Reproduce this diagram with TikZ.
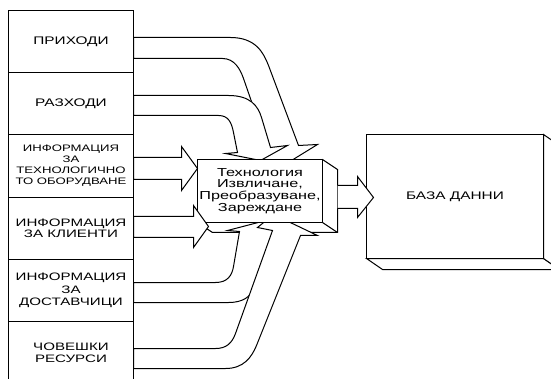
\documentclass[tikz,border=0pt]{standalone}
\usepackage{fontspec}
\setmainfont{Liberation Sans}[FakeStretch=1.4]
\usetikzlibrary{positioning}
\pgfdeclarelayer{bg}
\pgfdeclarelayer{mid}
\pgfsetlayers{bg,mid,main}
\begin{document}
\begin{tikzpicture}[x=1pt,y=-1pt,line width=1pt]
\tikzstyle{src}=[draw, line width=1pt, rectangle, minimum width=125pt, minimum height=62.2pt, align=center, inner sep=0pt, outer sep=0pt]
\tikzstyle{blk}=[draw, line width=1pt, fill=white, line join=miter]
\tikzstyle{cube}=[draw, line width=1pt, fill=white, align=center, inner sep=0pt, outer sep=0pt]
\useasboundingbox (0,0) rectangle (551,379);
\begin{scope}[shift={(0.5,0.5)}]

\node[src, anchor=north west, font=\fontsize{11}{13}\selectfont] (prih) at (8,10) {ПРИХОДИ};
\node[src, below=0pt of prih, font=\fontsize{11}{13}\selectfont] (razh) {РАЗХОДИ};
\node[src, below=0pt of razh, font=\fontsize{9.4}{11}\selectfont] (tech) {ИНФОРМАЦИЯ\\ЗА\\ТЕХНОЛОГИЧНО\\ТО ОБОРУДВАНЕ};
\node[src, below=0pt of tech, font=\fontsize{10.8}{11.6}\selectfont] (klie) {ИНФОРМАЦИЯ\\ЗА КЛИЕНТИ};
\node[src, below=0pt of klie, font=\fontsize{10.8}{12.5}\selectfont] (dost) {ИНФОРМАЦИЯ\\ЗА\\ДОСТАВЧИЦИ};
\node[src, below=0pt of dost, font=\fontsize{10.8}{11.5}\selectfont] (chov) {ЧОВЕШКИ\\РЕСУРСИ};

\node[cube, minimum width=125pt, minimum height=63pt, font=\fontsize{11.6}{11.6}\selectfont] (proc) at (259.5,190.5) {Технология\\Извличане,\\Преобразуване,\\Зареждане};
\begin{pgfonlayer}{bg}
\draw[blk] (proc.north east) -- ++(15,10) -- ++(0,63) -- ++(-125,0) -- (proc.south west) -- cycle;
\draw[blk] (proc.south east) -- ++(15,10);
\end{pgfonlayer}

\begin{pgfonlayer}{mid}
\draw[blk] (prih.east |- 0,37) -- (230,37) .. controls (255,37) and (263,52) .. (268,65) -- (298,145) -- (317,144) -- (278,168) -- (255,153) -- (268,150) -- (243,78) .. controls (239.7,68.6) and (234,58) .. (222,58) -- (prih.east |- 0,58) -- cycle;
\draw[blk] (razh.east |- 0,95) -- (228,95) .. controls (250,95) and (257.5,105.5) .. (261,117) -- (270,147) -- (287,145) -- (260,160) -- (225,153) -- (237,152) -- (233,132) .. controls (231,122) and (228,115) .. (218,115) -- (razh.east |- 0,115) -- cycle;
\draw[blk] (dost.east |- 0,282) -- (215,282) .. controls (227,282) and (231.5,275) .. (233,266) -- (239,231) -- (227,230) -- (273,218) -- (286,229) -- (277,233) -- (254,287) .. controls (250,296) and (243,302) .. (228,302) -- (dost.east |- 0,302) -- cycle;
\draw[blk] (chov.east |- 0,348) -- (215,348) .. controls (226,348) and (231.5,342.5) .. (235,333) -- (272,230) -- (257,227) -- (273,214) -- (317,235) -- (300,235) -- (256,345) .. controls (251,357) and (243,368) .. (225,368) -- (chov.east |- 0,368) -- cycle;
\end{pgfonlayer}

\draw[blk] (tech.east |- 0,157) -- (181,157) -- (181,146) -- (proc.west |- 0,168) -- (181,190) -- (181,179) -- (tech.east |- 0,179) -- cycle;
\draw[blk] (klie.east |- 0,216) -- (193,216) -- (193,205) -- (208,226) -- (193,247) -- (193,237) -- (klie.east |- 0,237) -- cycle;

\node[cube, minimum width=177pt, minimum height=124pt, font=\fontsize{11}{13}\selectfont] (db) at (454.5,196) {БАЗА ДАННИ};
\draw[blk] (db.south west) -- ++(16,11) -- ++(177,0) -- (db.south east) -- cycle;
\draw[blk] (db.north east) -- ++(16,11) -- ++(0,124) -- (db.south east) -- cycle;

\draw[blk] (337,185) -- (357,185) -- (357,176) -- (373,197) -- (357,217) -- (357,208) -- (337,208);
\end{scope}
\end{tikzpicture}
\end{document}
